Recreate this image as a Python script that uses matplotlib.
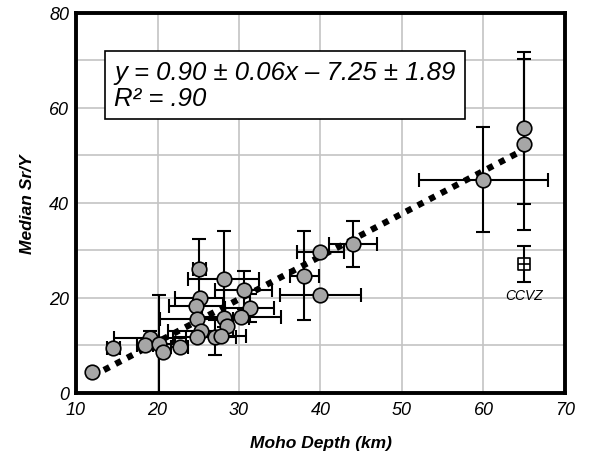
import matplotlib
matplotlib.use("Agg")
import matplotlib.pyplot as plt
import numpy as np

plt.rcParams['font.family'] = ['Liberation Sans', 'DejaVu Sans']

# Moho depth (km), median Sr/Y and their error bars
moho = [12.0, 14.6, 19.1, 18.5, 20.2, 20.7, 22.7, 25.1, 28.1, 30.6,
        25.2, 24.7, 31.3, 28.2, 24.8, 30.3, 28.5, 25.3, 24.9, 27.1,
        27.8, 38.0, 40.0, 40.0, 44.0, 60.0, 65.0, 65.0]
sr_y = [4.5, 9.4, 11.5, 10.0, 10.3, 8.7, 9.6, 26.0, 24.0, 21.6,
        20.0, 18.3, 17.9, 15.7, 15.6, 16.1, 14.0, 13.0, 11.7, 11.7,
        11.9, 24.7, 20.6, 29.6, 31.4, 44.9, 55.7, 52.4]
moho_err = [0, 0.8, 4.4, 1.0, 2.0, 0, 1.0, 0.8, 4.4, 3.5,
            3.0, 3.3, 3.0, 3.0, 4.5, 4.9, 0, 4.0, 3.0, 2.5,
            3.0, 1.8, 5.0, 2.9, 2.9, 7.9, 0, 0]
sr_y_err = [0, 0, 1.5, 0, 10.3, 0, 0, 6.4, 10.2, 4.0,
            0, 0, 3.0, 0, 0, 0, 0, 0, 0, 3.7,
            0, 9.4, 0, 0, 4.9, 11.0, 16.0, 18.0]

# CCVZ point
ccvz_moho, ccvz_sr_y, ccvz_err = 65.0, 27.2, 3.8

# regression
slope, intercept = 0.90, -7.25
fit_x = np.array([12.0, 65.0])

fig = plt.figure(figsize=(5.91, 4.6), dpi=100)
ax = fig.add_axes([0.1286, 0.1435, 0.8274, 0.8261])

ax.errorbar(moho, sr_y, xerr=moho_err, yerr=sr_y_err, fmt='none',
            ecolor='black', elinewidth=1.5, capsize=5, capthick=1.5, zorder=3)
ax.plot(fit_x, slope * fit_x + intercept, color='black', lw=4.5,
        linestyle=(0, (1, 1.1)), zorder=4)
ax.scatter(moho, sr_y, s=110, facecolor='#a6a6a6', edgecolor='black',
           linewidth=1.2, zorder=5)

ax.errorbar([ccvz_moho], [ccvz_sr_y], yerr=[ccvz_err], fmt='none',
            ecolor='black', elinewidth=1.5, capsize=5, capthick=1.5, zorder=3)
ax.scatter([ccvz_moho], [ccvz_sr_y], s=70, marker='s', facecolor='white',
           edgecolor='black', linewidth=1.2, zorder=5)
ax.scatter([ccvz_moho], [ccvz_sr_y], s=70, marker='+', color='black',
           linewidth=1.2, zorder=6)
ax.text(ccvz_moho, ccvz_sr_y - 6.5, 'CCVZ', ha='center', va='center',
        fontsize=10, style='italic')

ax.set_xlim(10, 70)
ax.set_ylim(0, 80)
ax.set_xticks(np.arange(10, 71, 10))
ax.set_yticks(np.arange(0, 81, 20))
ax.set_yticks(np.arange(10, 80, 20), minor=True)
ax.grid(True, which='both', color='#c4c4c4', lw=1.2, zorder=0)
ax.set_axisbelow(True)
ax.tick_params(which='both', length=0, labelsize=13)
ax.tick_params(axis='x', pad=6)
ax.tick_params(axis='y', pad=5)
for lab in ax.get_xticklabels() + ax.get_yticklabels():
    lab.set_style('italic')
for sp in ax.spines.values():
    sp.set_linewidth(2.8)

ax.set_xlabel('Moho Depth (km)', fontsize=12.5, fontweight='bold',
              style='italic', labelpad=12)
ax.set_ylabel('Median Sr/Y', fontsize=12.5, fontweight='bold',
              style='italic', labelpad=10)

ax.text(0.078, 0.81, 'y = 0.90 \u00b1 0.06x \u2013 7.25 \u00b1 1.89\nR\u00b2 = .90',
        transform=ax.transAxes, fontsize=18.5, style='italic', va='center',
        linespacing=1.12,
        bbox=dict(boxstyle='square,pad=0.35', facecolor='white',
                  edgecolor='black', lw=1.2), zorder=7)

fig.savefig('out.png', dpi=100)
